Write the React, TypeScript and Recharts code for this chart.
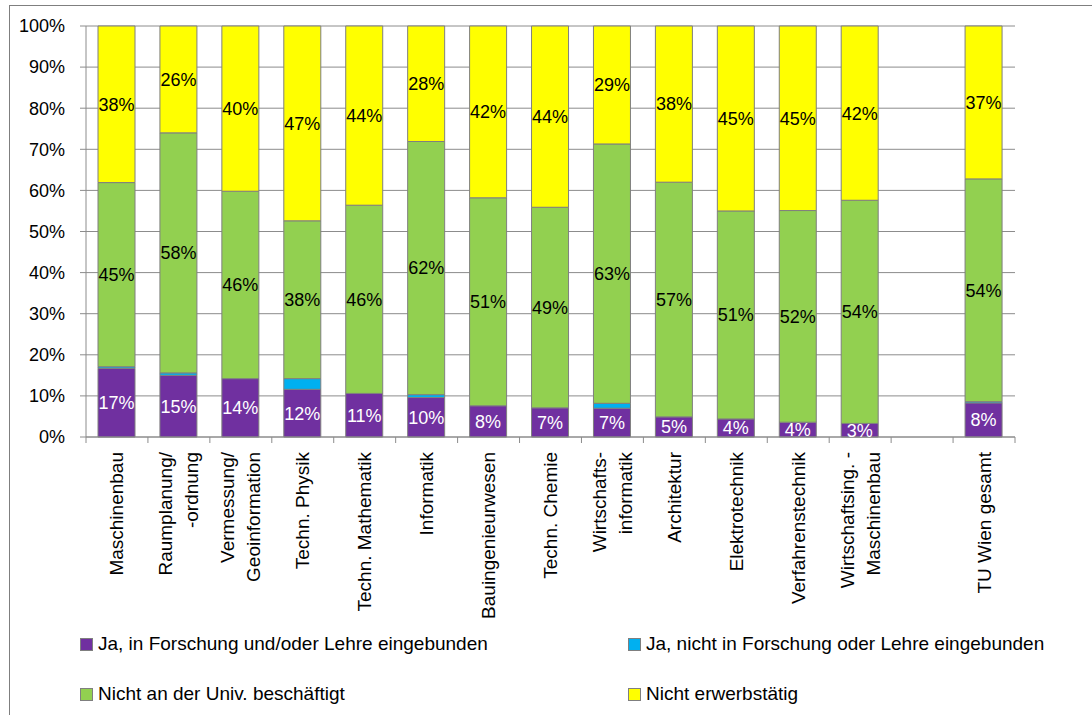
import { Bar, BarChart, CartesianGrid, LabelList, XAxis, YAxis } from 'recharts';

const categories = [
  'Maschinenbau',
  'Raumplanung/\n-ordnung',
  'Vermessung/\nGeoinformation',
  'Techn. Physik',
  'Techn. Mathematik',
  'Informatik',
  'Bauingenieurwesen',
  'Techn. Chemie',
  'Wirtschafts-\ninformatik',
  'Architektur',
  'Elektrotechnik',
  'Verfahrenstechnik',
  'Wirtschaftsing. -\nMaschinenbau',
  '',
  'TU Wien gesamt',
];

// shares in percent
const forschungLehre = [16.7, 15.0, 14.2, 11.6, 10.6, 9.6, 7.6, 7.1, 7.0, 4.9, 4.4, 3.6, 3.3, null, 8.3];
const nichtForschung = [0.4, 0.6, 0, 2.6, 0, 0.7, 0, 0, 1.2, 0, 0, 0, 0, null, 0.3];
const nichtUniv = [44.8, 58.4, 45.6, 38.4, 45.8, 61.6, 50.6, 48.8, 63.1, 57.1, 50.6, 51.5, 54.3, null, 54.2];
const nichtErwerb = [38.1, 26.0, 40.2, 47.4, 43.6, 28.1, 41.8, 44.1, 28.7, 38.0, 45.0, 44.9, 42.4, null, 37.2];

const yTicks = [0, 10, 20, 30, 40, 50, 60, 70, 80, 90, 100];

const series = [
  { key: 'a', name: 'Ja, in Forschung und/oder Lehre eingebunden', color: '#7030A0', label: '#ffffff' },
  { key: 'b', name: 'Ja, nicht in Forschung oder Lehre eingebunden', color: '#00B0F0', label: null },
  { key: 'c', name: 'Nicht an der Univ. beschäftigt', color: '#92D050', label: '#000000' },
  { key: 'd', name: 'Nicht erwerbstätig', color: '#FFFF00', label: '#000000' },
];

const data = categories.map((name, i) => ({
  name,
  a: forschungLehre[i],
  b: nichtForschung[i],
  c: nichtUniv[i],
  d: nichtErwerb[i],
}));

const FONT = '"Liberation Sans", Arial, sans-serif';
const PLOT_W = 929;
const GRID = '#8c8c8c';

const fmt = (v: any) => (v == null || v === 0 ? '' : `${Math.round(v)}%`);

function XTick(props: any) {
  const { x, y, payload, index } = props;
  const lines = String(payload.value).split('\n');
  const band = PLOT_W / categories.length;
  const axisY = y - 15;
  const step = 26;
  return (
    <g>
      <line x1={x - band / 2} x2={x - band / 2} y1={axisY} y2={axisY + 6} stroke={GRID} />
      {index === categories.length - 1 && (
        <line x1={x + band / 2} x2={x + band / 2} y1={axisY} y2={axisY + 6} stroke={GRID} />
      )}
      <text
        transform={`translate(${x},${y}) rotate(-90)`}
        textAnchor="end"
        fontSize={19}
        fontFamily={FONT}
        fill="#000"
      >
        {lines.map((l, i) => (
          <tspan key={i} x={0} y={6.5 + (i - (lines.length - 1) / 2) * step}>
            {l}
          </tspan>
        ))}
      </text>
    </g>
  );
}

export default function App() {
  return (
    <div
      style={{
        position: 'fixed',
        left: 0,
        top: 0,
        width: 1092,
        height: 715,
        overflow: 'hidden',
        background: '#fff',
        fontFamily: FONT,
      }}
    >
      <div
        style={{
          position: 'absolute',
          left: 9,
          top: 5,
          width: 1200,
          height: 800,
          border: '1px solid #7f7f7f',
        }}
      />
      <div style={{ position: 'absolute', left: 0, top: 0 }}>
        <BarChart
          width={1092}
          height={640}
          data={data}
          margin={{ top: 26, right: 77, bottom: 0, left: 0 }}
          barSize={37}
        >
          <CartesianGrid vertical={false} stroke={GRID} />
          <XAxis
            dataKey="name"
            height={203}
            interval={0}
            tickLine={false}
            tickSize={6}
            tickMargin={9}
            stroke={GRID}
            tick={<XTick />}
          />
          <YAxis
            width={86}
            domain={[0, 100]}
            ticks={yTicks}
            tickFormatter={(v) => `${v}%`}
            tickSize={6}
            tickMargin={15}
            stroke={GRID}
            tick={{ fill: '#000', fontSize: 18, fontFamily: FONT }}
          />
          {series.map((s) => (
            <Bar
              key={s.key}
              dataKey={s.key}
              name={s.name}
              stackId="x"
              fill={s.color}
              stroke="#7f7f7f"
              strokeWidth={1}
              isAnimationActive={false}
            >
              {s.label && (
                <LabelList
                  dataKey={s.key}
                  position="center"
                  formatter={fmt}
                  fill={s.label}
                  stroke="none"
                  fontSize={18}
                  fontFamily={FONT}
                />
              )}
            </Bar>
          ))}
        </BarChart>
      </div>
      {series.map((s, i) => (
        <div
          key={s.key}
          style={{
            position: 'absolute',
            left: i % 2 === 0 ? 80 : 628,
            top: i < 2 ? 633 : 683,
            display: 'flex',
            alignItems: 'center',
            fontSize: 19,
            color: '#000',
            whiteSpace: 'nowrap',
          }}
        >
          <span
            style={{
              display: 'inline-block',
              width: 11,
              height: 11,
              background: s.color,
              border: '1px solid #7f7f7f',
              marginRight: 5,
            }}
          />
          {s.name}
        </div>
      ))}
    </div>
  );
}
